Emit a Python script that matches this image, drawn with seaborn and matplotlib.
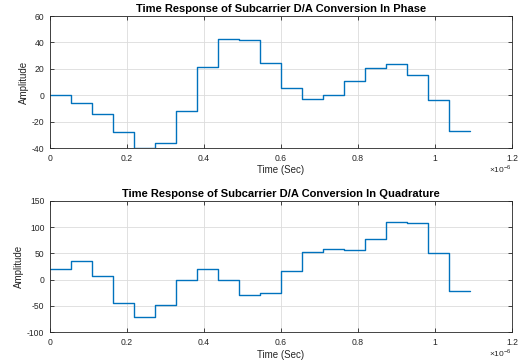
import numpy as np
import pandas as pd
import matplotlib
matplotlib.use("Agg")
import matplotlib.pyplot as plt
import seaborn as sns

# Step edges in microseconds (symbol boundaries)
time_us = [0, 0.0545, 0.109, 0.1636, 0.2182, 0.2727, 0.3273, 0.3818, 0.4364,
           0.4909, 0.5455, 0.6, 0.6545, 0.7091, 0.7636, 0.8182, 0.8727, 0.9273,
           0.9818, 1.0364, 1.0909]

in_phase = [0, -5.75, -14, -27.75, -40, -36, -11.75, 21.25, 42.75, 41.75,
            24.75, 5.75, -2.75, 0.25, 10.5, 20.25, 24, 15.5, -3.5, -26.75]

quadrature = [20.25, 36, 7, -45, -71, -47.5, 0, 21, 0, -29,
              -24.7, 15.8, 52.5, 58.9, 56.3, 76.6, 110, 107.6, 50, -21.5]

titles = ["Time Response of Subcarrier D/A Conversion In Phase",
          "Time Response of Subcarrier D/A Conversion In Quadrature"]
x_ticks = [0, 0.2, 0.4, 0.6, 0.8, 1, 1.2]
x_ticklabels = ["0", "0.2", "0.4", "0.6", "0.8", "1", "1.2"]
y_ticks_i = [-40, -20, 0, 20, 40, 60]
y_ticks_q = [-100, -50, 0, 50, 100, 150]

sns.set_theme(style="whitegrid")
plt.rcParams['font.family'] = ['Liberation Sans', 'DejaVu Sans']
plt.rcParams['mathtext.fontset'] = 'custom'
plt.rcParams['mathtext.rm'] = 'Liberation Sans'

fig = plt.figure(figsize=(5.21, 3.63), dpi=100)
W, H = 521, 363
ax1 = fig.add_axes([50 / W, 1 - 148 / H, 462 / W, 132 / H])
ax2 = fig.add_axes([50 / W, 1 - 332.3 / H, 462 / W, 131.6 / H])

blue = "#0072BD"
for ax, vals, title, yt in [(ax1, in_phase, titles[0], y_ticks_i),
                            (ax2, quadrature, titles[1], y_ticks_q)]:
    df = pd.DataFrame({"t": time_us, "v": list(vals) + [vals[-1]]})
    sns.lineplot(data=df, x="t", y="v", ax=ax, color=blue, linewidth=1.0,
                 drawstyle="steps-post")
    ax.set_xlim(0, 1.2)
    ax.set_ylim(yt[0], yt[-1])
    ax.set_xticks(x_ticks)
    ax.set_xticklabels(x_ticklabels)
    ax.set_yticks(yt)
    ax.set_yticklabels([str(v) for v in yt])
    ax.set_title(title, fontsize=8, fontweight="bold", pad=3, color="black")
    ax.set_xlabel("Time (Sec)", fontsize=7, labelpad=2, color="#262626")
    ax.set_ylabel("Amplitude", fontsize=7, labelpad=2, color="#262626")
    ax.tick_params(axis="both", which="both", direction="in", length=3,
                   width=0.6, labelsize=6.2, colors="#262626", pad=4,
                   top=True, right=True, bottom=True, left=True)
    ax.grid(True, color="#dcdcdc", linewidth=0.6)
    for s in ax.spines.values():
        s.set_visible(True)
        s.set_color("#262626")
        s.set_linewidth(0.6)
    ax.set_facecolor("white")
    # exponent label
    ax.text(1.0, -0.11, r"$\times10^{-6}$", transform=ax.transAxes,
            ha="right", va="top", fontsize=6, color="#262626")

fig.savefig("out.png", dpi=100, facecolor="white")
